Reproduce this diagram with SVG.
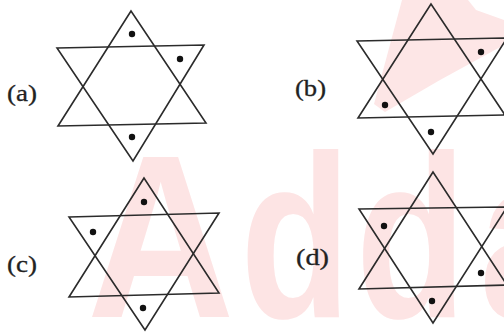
<svg xmlns="http://www.w3.org/2000/svg" width="504" height="333" viewBox="0 0 504 333">
<style>
.wm{fill:#fde4e4;font-family:"Liberation Sans",Arial,sans-serif;font-weight:bold;font-size:232px}
.tri{fill:none;stroke:#2b2b2b;stroke-width:1.6;stroke-linejoin:miter}
.dot{fill:#111}
.lbl{font-family:"Liberation Serif","Times New Roman",serif;font-size:24px;fill:#222;stroke:#222;stroke-width:0.3}
</style>
<rect width="504" height="333" fill="#ffffff"/>
<g id="watermark">
<polygon points="402,0 468,0 476,10 504,20 504,45 440,80 385,112 374,104" fill="#fde6e6"/>
<text class="wm" transform="scale(0.88 1)" x="99" y="317">A</text>
<text class="wm" transform="scale(0.78 1)" y="317"><tspan x="308">d</tspan><tspan x="456">d</tspan><tspan x="615">a</tspan></text>
</g>
<g id="star-a">
<polygon class="tri" points="131,11 58,126 206,123"/>
<polygon class="tri" points="57,48 204,45 133,161"/>
<circle class="dot" cx="132" cy="34" r="3.2"/>
<circle class="dot" cx="180" cy="59" r="3.2"/>
<circle class="dot" cx="132" cy="137" r="3.2"/>
<text class="lbl" x="7" y="101" textLength="30" lengthAdjust="spacingAndGlyphs">(a)</text>
</g>
<g id="star-b">
<polygon class="tri" points="431,4 358,118 505,115"/>
<polygon class="tri" points="357,41 507,38 433,154"/>
<circle class="dot" cx="481" cy="52" r="3.2"/>
<circle class="dot" cx="385" cy="105" r="3.2"/>
<circle class="dot" cx="431" cy="132" r="3.2"/>
<text class="lbl" x="295" y="96" textLength="31" lengthAdjust="spacingAndGlyphs">(b)</text>
</g>
<g id="star-c">
<polygon class="tri" points="144,178 69,297 219,293"/>
<polygon class="tri" points="69,217 219,213 145,330"/>
<circle class="dot" cx="144" cy="202" r="3.2"/>
<circle class="dot" cx="93" cy="232" r="3.2"/>
<circle class="dot" cx="143" cy="308" r="3.2"/>
<text class="lbl" x="7" y="272" textLength="30" lengthAdjust="spacingAndGlyphs">(c)</text>
</g>
<g id="star-d">
<polygon class="tri" points="433,172 359,289 507,285"/>
<polygon class="tri" points="359,209 507,207 433,323"/>
<circle class="dot" cx="384" cy="226" r="3.2"/>
<circle class="dot" cx="481" cy="273" r="3.2"/>
<circle class="dot" cx="432" cy="301" r="3.2"/>
<text class="lbl" x="296" y="265" textLength="33" lengthAdjust="spacingAndGlyphs">(d)</text>
</g>
</svg>
